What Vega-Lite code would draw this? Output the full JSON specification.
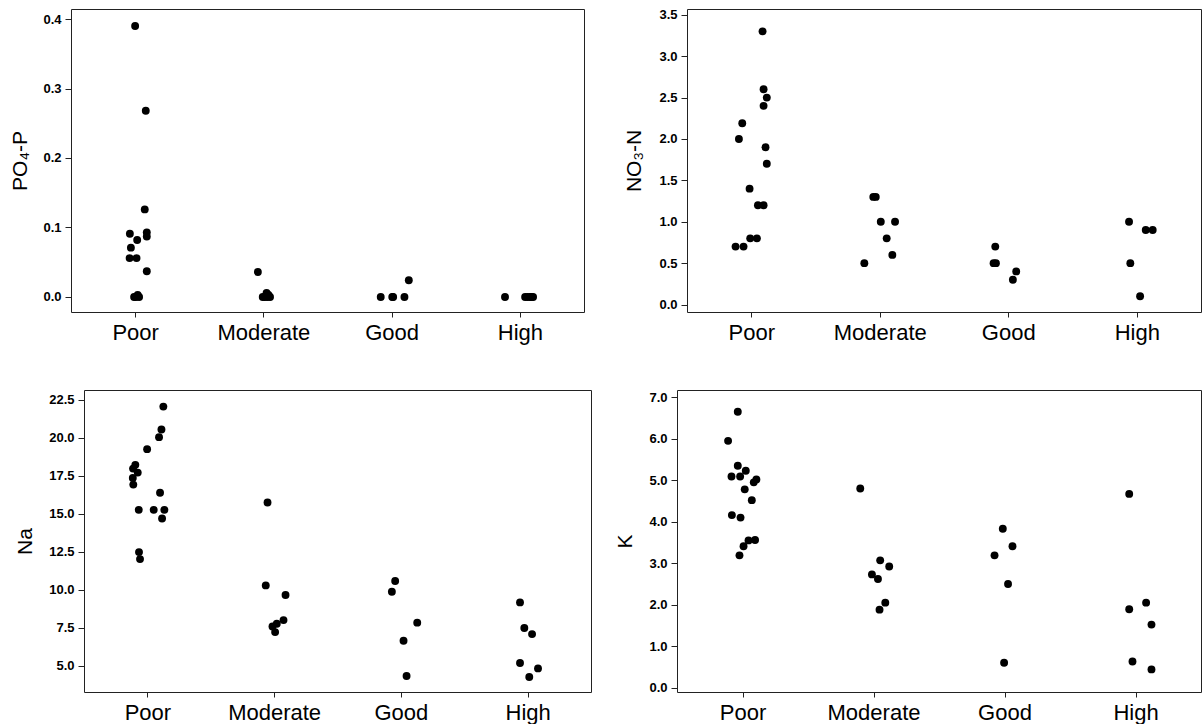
{
  "$schema": "https://vega.github.io/schema/vega-lite/v6.json",
  "background": "white",
  "padding": {"left": 0, "top": 8, "right": 2, "bottom": 0},
  "config": {
    "view": {"stroke": "#222", "strokeWidth": 1},
    "axis": {"grid": false, "domain": false, "tickColor": "#222", "labelColor": "#000", "titleColor": "#000", "labelFont": "Liberation Sans", "titleFont": "Liberation Sans", "labelFlush": false, "labelOverlap": false},
    "axisY": {"labelFontSize": 13, "labelFontWeight": "bold", "tickSize": 6, "labelPadding": 4, "titleFontSize": 21, "titleFontWeight": "normal", "titlePadding": 14},
    "axisX": {"labelFontSize": 22, "tickSize": 5, "labelPadding": 5}
  },
  "datasets": {
    "po4": [
      {"status": "Poor", "g": 1.0, "v": 0.390},
      {"status": "Poor", "g": 1.083, "v": 0.268},
      {"status": "Poor", "g": 1.075, "v": 0.126},
      {"status": "Poor", "g": 0.959, "v": 0.091},
      {"status": "Poor", "g": 1.091, "v": 0.093},
      {"status": "Poor", "g": 1.091, "v": 0.087},
      {"status": "Poor", "g": 1.016, "v": 0.082},
      {"status": "Poor", "g": 0.967, "v": 0.071},
      {"status": "Poor", "g": 0.957, "v": 0.056},
      {"status": "Poor", "g": 1.011, "v": 0.056},
      {"status": "Poor", "g": 1.091, "v": 0.037},
      {"status": "Poor", "g": 0.992, "v": 0.0},
      {"status": "Poor", "g": 1.005, "v": 0.0},
      {"status": "Poor", "g": 1.02, "v": 0.003},
      {"status": "Poor", "g": 1.031, "v": 0.0},
      {"status": "Moderate", "g": 1.957, "v": 0.036},
      {"status": "Moderate", "g": 1.995, "v": 0.0},
      {"status": "Moderate", "g": 2.01, "v": 0.0},
      {"status": "Moderate", "g": 2.025, "v": 0.006},
      {"status": "Moderate", "g": 2.04, "v": 0.003},
      {"status": "Moderate", "g": 2.052, "v": 0.0},
      {"status": "Moderate", "g": 2.03, "v": 0.0},
      {"status": "Good", "g": 2.915, "v": 0.0},
      {"status": "Good", "g": 3.005, "v": 0.0},
      {"status": "Good", "g": 3.012, "v": 0.0},
      {"status": "Good", "g": 3.1, "v": 0.0},
      {"status": "Good", "g": 3.134, "v": 0.024},
      {"status": "High", "g": 3.884, "v": 0.0},
      {"status": "High", "g": 4.041, "v": 0.0},
      {"status": "High", "g": 4.06, "v": 0.0},
      {"status": "High", "g": 4.08, "v": 0.0},
      {"status": "High", "g": 4.09, "v": 0.0},
      {"status": "High", "g": 4.103, "v": 0.0}
    ],
    "no3": [
      {"status": "Poor", "g": 1.088, "v": 3.30},
      {"status": "Poor", "g": 1.096, "v": 2.60},
      {"status": "Poor", "g": 1.121, "v": 2.50},
      {"status": "Poor", "g": 1.096, "v": 2.40},
      {"status": "Poor", "g": 0.930, "v": 2.19},
      {"status": "Poor", "g": 0.904, "v": 2.00},
      {"status": "Poor", "g": 1.111, "v": 1.90},
      {"status": "Poor", "g": 1.121, "v": 1.70},
      {"status": "Poor", "g": 0.987, "v": 1.40},
      {"status": "Poor", "g": 1.052, "v": 1.20},
      {"status": "Poor", "g": 1.096, "v": 1.20},
      {"status": "Poor", "g": 0.992, "v": 0.80},
      {"status": "Poor", "g": 1.044, "v": 0.80},
      {"status": "Poor", "g": 0.878, "v": 0.70},
      {"status": "Poor", "g": 0.940, "v": 0.70},
      {"status": "Moderate", "g": 1.950, "v": 1.30},
      {"status": "Moderate", "g": 1.969, "v": 1.30},
      {"status": "Moderate", "g": 2.008, "v": 1.00},
      {"status": "Moderate", "g": 2.119, "v": 1.00},
      {"status": "Moderate", "g": 2.054, "v": 0.80},
      {"status": "Moderate", "g": 2.098, "v": 0.60},
      {"status": "Moderate", "g": 1.880, "v": 0.50},
      {"status": "Good", "g": 2.899, "v": 0.70},
      {"status": "Good", "g": 2.886, "v": 0.50},
      {"status": "Good", "g": 2.904, "v": 0.50},
      {"status": "Good", "g": 3.062, "v": 0.40},
      {"status": "Good", "g": 3.036, "v": 0.30},
      {"status": "High", "g": 3.940, "v": 1.00},
      {"status": "High", "g": 4.070, "v": 0.90},
      {"status": "High", "g": 4.124, "v": 0.90},
      {"status": "High", "g": 3.950, "v": 0.50},
      {"status": "High", "g": 4.026, "v": 0.10}
    ],
    "na": [
      {"status": "Poor", "g": 1.126, "v": 22.04},
      {"status": "Poor", "g": 1.111, "v": 20.53},
      {"status": "Poor", "g": 1.092, "v": 20.03},
      {"status": "Poor", "g": 0.998, "v": 19.24},
      {"status": "Poor", "g": 0.905, "v": 18.21},
      {"status": "Poor", "g": 0.887, "v": 17.96},
      {"status": "Poor", "g": 0.924, "v": 17.70},
      {"status": "Poor", "g": 0.885, "v": 17.35},
      {"status": "Poor", "g": 0.889, "v": 16.91},
      {"status": "Poor", "g": 1.100, "v": 16.37},
      {"status": "Poor", "g": 0.932, "v": 15.25},
      {"status": "Poor", "g": 1.050, "v": 15.25},
      {"status": "Poor", "g": 1.134, "v": 15.25},
      {"status": "Poor", "g": 1.116, "v": 14.68},
      {"status": "Poor", "g": 0.934, "v": 12.47},
      {"status": "Poor", "g": 0.942, "v": 12.01},
      {"status": "Moderate", "g": 1.948, "v": 15.73},
      {"status": "Moderate", "g": 1.934, "v": 10.28},
      {"status": "Moderate", "g": 2.090, "v": 9.65},
      {"status": "Moderate", "g": 2.074, "v": 8.00},
      {"status": "Moderate", "g": 2.021, "v": 7.76},
      {"status": "Moderate", "g": 1.987, "v": 7.58},
      {"status": "Moderate", "g": 2.008, "v": 7.21},
      {"status": "Good", "g": 2.955, "v": 10.57},
      {"status": "Good", "g": 2.929, "v": 9.86},
      {"status": "Good", "g": 3.129, "v": 7.83},
      {"status": "Good", "g": 3.021, "v": 6.64},
      {"status": "Good", "g": 3.045, "v": 4.32},
      {"status": "High", "g": 3.940, "v": 9.16},
      {"status": "High", "g": 3.974, "v": 7.48},
      {"status": "High", "g": 4.035, "v": 7.08},
      {"status": "High", "g": 3.940, "v": 5.18},
      {"status": "High", "g": 4.082, "v": 4.82},
      {"status": "High", "g": 4.013, "v": 4.26}
    ],
    "k": [
      {"status": "Poor", "g": 0.964, "v": 6.65},
      {"status": "Poor", "g": 0.890, "v": 5.95},
      {"status": "Poor", "g": 0.964, "v": 5.35},
      {"status": "Poor", "g": 1.025, "v": 5.23},
      {"status": "Poor", "g": 0.916, "v": 5.09},
      {"status": "Poor", "g": 0.982, "v": 5.09},
      {"status": "Poor", "g": 1.106, "v": 5.02},
      {"status": "Poor", "g": 1.086, "v": 4.95},
      {"status": "Poor", "g": 1.017, "v": 4.78},
      {"status": "Poor", "g": 1.071, "v": 4.52},
      {"status": "Poor", "g": 0.919, "v": 4.16},
      {"status": "Poor", "g": 0.985, "v": 4.10},
      {"status": "Poor", "g": 1.096, "v": 3.56},
      {"status": "Poor", "g": 1.046, "v": 3.55},
      {"status": "Poor", "g": 1.008, "v": 3.41},
      {"status": "Poor", "g": 0.977, "v": 3.19},
      {"status": "Moderate", "g": 1.899, "v": 4.80},
      {"status": "Moderate", "g": 2.051, "v": 3.07},
      {"status": "Moderate", "g": 2.120, "v": 2.92},
      {"status": "Moderate", "g": 1.988, "v": 2.73},
      {"status": "Moderate", "g": 2.034, "v": 2.62},
      {"status": "Moderate", "g": 2.090, "v": 2.05},
      {"status": "Moderate", "g": 2.046, "v": 1.88},
      {"status": "Good", "g": 2.987, "v": 3.83},
      {"status": "Good", "g": 3.061, "v": 3.41},
      {"status": "Good", "g": 2.924, "v": 3.19},
      {"status": "Good", "g": 3.027, "v": 2.50},
      {"status": "Good", "g": 2.997, "v": 0.60},
      {"status": "High", "g": 3.952, "v": 4.67},
      {"status": "High", "g": 4.081, "v": 2.05},
      {"status": "High", "g": 3.952, "v": 1.89},
      {"status": "High", "g": 4.122, "v": 1.52},
      {"status": "High", "g": 3.977, "v": 0.63},
      {"status": "High", "g": 4.122, "v": 0.44}
    ]
  },
  "columns": 1,
  "align": "none",
  "spacing": 45,
  "concat": [
    {
      "columns": 4,
      "align": "none",
      "spacing": 0,
      "concat": [
        {"width": 9, "height": 1, "data": {"values": []}, "mark": "point", "view": {"stroke": null}},
        {
          "width": 513, "height": 303,
          "data": {"name": "po4"},
          "mark": {"type": "circle", "size": 62, "color": "#000", "opacity": 1},
          "encoding": {
            "x": {"field": "g", "type": "quantitative", "scale": {"domain": [0.5, 4.5], "nice": false, "zero": false}, "axis": {"values": [1, 2, 3, 4], "labelExpr": "['', 'Poor', 'Moderate', 'Good', 'High'][datum.value]", "title": null}},
            "y": {"field": "v", "type": "quantitative", "scale": {"domain": [-0.0216, 0.4144], "nice": false, "zero": false}, "axis": {"values": [0, 0.1, 0.2, 0.3, 0.4], "format": ".1f", "title": "PO₄-P", "minExtent": 26.5, "maxExtent": 26.5}}
          }
        },
        {"width": 38, "height": 1, "data": {"values": []}, "mark": "point", "view": {"stroke": null}},
        {
          "width": 514, "height": 303,
          "data": {"name": "no3"},
          "mark": {"type": "circle", "size": 62, "color": "#000", "opacity": 1},
          "encoding": {
            "x": {"field": "g", "type": "quantitative", "scale": {"domain": [0.5, 4.5], "nice": false, "zero": false}, "axis": {"values": [1, 2, 3, 4], "labelExpr": "['', 'Poor', 'Moderate', 'Good', 'High'][datum.value]", "title": null}},
            "y": {"field": "v", "type": "quantitative", "scale": {"domain": [-0.09, 3.57], "nice": false, "zero": false}, "axis": {"values": [0, 0.5, 1, 1.5, 2, 2.5, 3, 3.5], "format": ".1f", "title": "NO₃-N", "minExtent": 28.5, "maxExtent": 28.5}}
          }
        }
      ]
    },
    {
      "columns": 4,
      "align": "none",
      "spacing": 0,
      "concat": [
        {"width": 14, "height": 1, "data": {"values": []}, "mark": "point", "view": {"stroke": null}},
        {
          "width": 507, "height": 302,
          "data": {"name": "na"},
          "mark": {"type": "circle", "size": 62, "color": "#000", "opacity": 1},
          "encoding": {
            "x": {"field": "g", "type": "quantitative", "scale": {"domain": [0.5, 4.5], "nice": false, "zero": false}, "axis": {"values": [1, 2, 3, 4], "labelExpr": "['', 'Poor', 'Moderate', 'Good', 'High'][datum.value]", "title": null}},
            "y": {"field": "v", "type": "quantitative", "scale": {"domain": [3.27, 23.13], "nice": false, "zero": false}, "axis": {"values": [5, 7.5, 10, 12.5, 15, 17.5, 20, 22.5], "format": ".1f", "title": "Na", "minExtent": 34.5, "maxExtent": 34.5}}
          }
        },
        {"width": 22, "height": 1, "data": {"values": []}, "mark": "point", "view": {"stroke": null}},
        {
          "width": 524, "height": 302,
          "data": {"name": "k"},
          "mark": {"type": "circle", "size": 62, "color": "#000", "opacity": 1},
          "encoding": {
            "x": {"field": "g", "type": "quantitative", "scale": {"domain": [0.5, 4.5], "nice": false, "zero": false}, "axis": {"values": [1, 2, 3, 4], "labelExpr": "['', 'Poor', 'Moderate', 'Good', 'High'][datum.value]", "title": null}},
            "y": {"field": "v", "type": "quantitative", "scale": {"domain": [-0.104, 7.175], "nice": false, "zero": false}, "axis": {"values": [0, 1, 2, 3, 4, 5, 6, 7], "format": ".1f", "title": "K", "minExtent": 27.5, "maxExtent": 27.5}}
          }
        }
      ]
    }
  ]
}
